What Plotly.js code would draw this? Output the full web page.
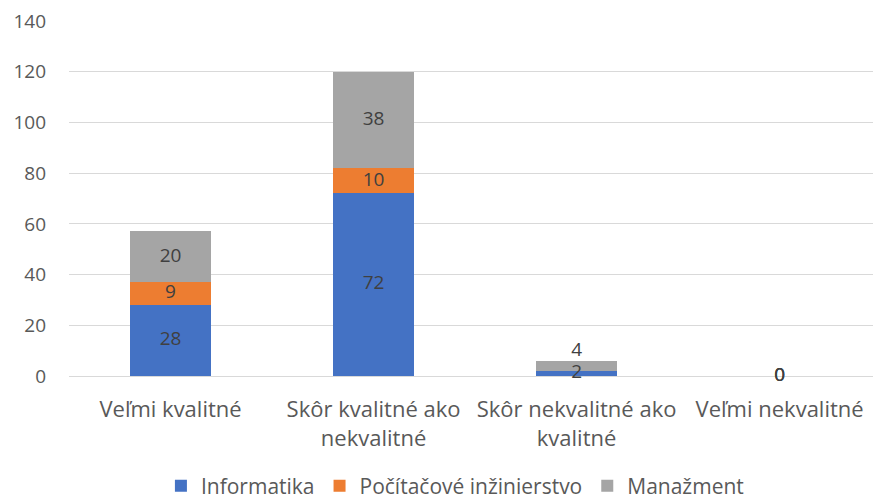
<!DOCTYPE html>
<html>
<head>
<meta charset="utf-8">
<script src="https://cdn.plot.ly/plotly-3.0.1.min.js"></script>
<style>html,body{margin:0;padding:0;background:#fff;}#chart{width:873px;height:499px;}</style>
</head>
<body>
<div id="chart"></div>
<script>
var categories = ["Veľmi kvalitné", "Skôr kvalitné ako<br>nekvalitné", "Skôr nekvalitné ako<br>kvalitné", "Veľmi nekvalitné"];
var seriesNames = ["Informatika", "Počítačové inžinierstvo", "Manažment"];
var informatika = [28, 72, 2, 0];
var pocitacove = [9, 10, 0, 0];
var manazment = [20, 38, 4, 0];
var colors = ["#4472C4", "#ED7D31", "#A5A5A5"];

var series = [informatika, pocitacove, manazment];
var FONT = "'Open Sans', sans-serif";
var traces = [];
series.forEach(function (vals, i) {
  traces.push({
    type: "bar", x: categories, y: vals, name: seriesNames[i],
    marker: {color: colors[i]}, hoverinfo: "skip", showlegend: true
  });
});
// data labels
var totals = categories.map(function (c, j) {
  return series.reduce(function (s, v) { return s + v[j]; }, 0);
});
series.forEach(function (vals, i) {
  var ys = [], txt = [], pos = [];
  vals.forEach(function (v, j) {
    var base = 0;
    for (var k = 0; k < i; k++) base += series[k][j];
    var isTop = true;
    for (var k2 = i + 1; k2 < series.length; k2++) if (series[k2][j] > 0) isTop = false;
    if (v === 0 && totals[j] !== 0) { ys.push(null); txt.push(""); pos.push("middle center"); return; }
    if (v > 0 && v < 6 && isTop && i > 0) {
      ys.push(base + v); pos.push("top center");
    } else {
      ys.push(base + v / 2); pos.push("middle center");
    }
    txt.push(String(v));
  });
  traces.push({
    type: "scatter", mode: "text", x: categories, y: ys, text: txt,
    textposition: pos, textfont: {family: FONT, size: 19, color: "#404040"},
    showlegend: false, hoverinfo: "skip", cliponaxis: false
  });
});

var layout = {
  width: 873, height: 499,
  margin: {l: 69, r: 0, t: 21, b: 123},
  paper_bgcolor: "#fff", plot_bgcolor: "#fff",
  barmode: "stack", bargap: 0.6,
  hovermode: false,
  font: {family: FONT, size: 19, color: "#595959"},
  xaxis: {
    type: "category", range: [-0.5, 3.46], showgrid: false, zeroline: false,
    showline: false, ticks: "", tickfont: {family: FONT, size: 22, color: "#595959"},
    ticklabelstandoff: 18, automargin: false, fixedrange: true
  },
  yaxis: {
    range: [0, 140], dtick: 20, showgrid: true, gridcolor: "#D9D9D9", gridwidth: 1,
    zeroline: true, zerolinecolor: "#D9D9D9", zerolinewidth: 1,
    showline: false, ticks: "", ticklabelstandoff: 22, automargin: false,
    tickfont: {family: FONT, size: 19, color: "#595959"}, fixedrange: true
  },
  legend: {
    orientation: "h", x: 0.48, xanchor: "center", xref: "paper",
    yref: "container", y: 0.026, yanchor: "middle",
    font: {family: FONT, size: 21, color: "#595959"},
    traceorder: "normal", itemwidth: 30
  },
  showlegend: true
};
Plotly.newPlot("chart", traces, layout, {displayModeBar: false, staticPlot: true});
</script>
</body>
</html>
